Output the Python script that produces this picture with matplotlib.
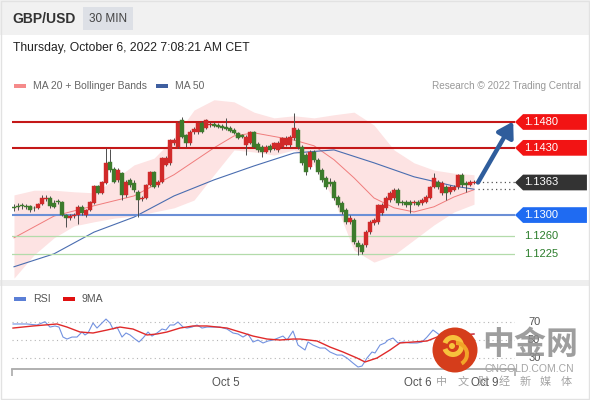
import numpy as np
import matplotlib
matplotlib.use('Agg')
import matplotlib.pyplot as plt
from matplotlib.patches import Polygon, Rectangle, Circle, Wedge
from matplotlib.transforms import blended_transform_factory

plt.rcParams['font.family'] = ['Liberation Sans', 'Noto Sans CJK SC', 'DejaVu Sans']

W, H = 590, 400

# ---- 30 min candles GBP/USD ----
opens = [1.1316, 1.1318, 1.1319, 1.1318, 1.1318, 1.1314, 1.1314, 1.1321, 1.1331, 1.1333,
         1.1323, 1.1327, 1.1325, 1.1300, 1.1294, 1.1298, 1.1300, 1.1316, 1.1300, 1.1310,
         1.1323, 1.1356, 1.1343, 1.1362, 1.1403, 1.1389, 1.1368, 1.1381, 1.1339, 1.1368,
         1.1362, 1.1345, 1.1331, 1.1333, 1.1358, 1.1383, 1.1358, 1.1364, 1.1397, 1.1401,
         1.1439, 1.1432, 1.1484, 1.1455, 1.1439, 1.1461, 1.1461, 1.1478, 1.1468, 1.1474,
         1.1476, 1.1474, 1.1472, 1.1470, 1.1468, 1.1465, 1.1459, 1.1455, 1.1436, 1.1439,
         1.1461, 1.1437, 1.1432, 1.1422, 1.1434, 1.1430, 1.1426, 1.1432, 1.1436, 1.1436,
         1.1449, 1.1465, 1.1432, 1.1416, 1.1393, 1.1422, 1.1407, 1.1387, 1.1372, 1.1364,
         1.1364, 1.1335, 1.1323, 1.1310, 1.1287, 1.1290, 1.1246, 1.1242, 1.1242, 1.1267,
         1.1285, 1.1287, 1.1304, 1.1314, 1.1329, 1.1333, 1.1349, 1.1325, 1.1325, 1.1325,
         1.1323, 1.1325, 1.1323, 1.1325, 1.1333, 1.1354, 1.1364, 1.1343, 1.1354, 1.1345,
         1.1349, 1.1354, 1.1378, 1.1362, 1.1358, 1.1362]
highs = [1.1321, 1.1323, 1.1323, 1.1321, 1.1319, 1.1318, 1.1323, 1.1339, 1.1339, 1.1337,
         1.1329, 1.1331, 1.1327, 1.1302, 1.1302, 1.1304, 1.1319, 1.1319, 1.1312, 1.1327,
         1.1358, 1.1358, 1.1366, 1.1430, 1.1428, 1.1393, 1.1391, 1.1383, 1.1368, 1.1372,
         1.1368, 1.1349, 1.1337, 1.1360, 1.1385, 1.1385, 1.1368, 1.1412, 1.1414, 1.1447,
         1.1449, 1.1482, 1.1490, 1.1457, 1.1465, 1.1470, 1.1480, 1.1482, 1.1486, 1.1480,
         1.1480, 1.1478, 1.1476, 1.1488, 1.1472, 1.1468, 1.1461, 1.1457, 1.1455, 1.1463,
         1.1463, 1.1441, 1.1436, 1.1436, 1.1437, 1.1441, 1.1443, 1.1451, 1.1453, 1.1455,
         1.1497, 1.1468, 1.1436, 1.1420, 1.1426, 1.1426, 1.1410, 1.1391, 1.1376, 1.1372,
         1.1368, 1.1339, 1.1327, 1.1314, 1.1300, 1.1294, 1.1252, 1.1246, 1.1271, 1.1290,
         1.1294, 1.1321, 1.1323, 1.1337, 1.1347, 1.1352, 1.1352, 1.1329, 1.1329, 1.1329,
         1.1329, 1.1329, 1.1333, 1.1339, 1.1356, 1.1381, 1.1368, 1.1366, 1.1358, 1.1358,
         1.1358, 1.1379, 1.1381, 1.1366, 1.1368, 1.1368]
lows = [1.1308, 1.1310, 1.1312, 1.1312, 1.1306, 1.1308, 1.1312, 1.1319, 1.1327, 1.1314,
        1.1314, 1.1321, 1.1298, 1.1277, 1.1290, 1.1294, 1.1283, 1.1300, 1.1296, 1.1308,
        1.1321, 1.1341, 1.1341, 1.1360, 1.1383, 1.1362, 1.1364, 1.1329, 1.1335, 1.1354,
        1.1345, 1.1296, 1.1327, 1.1331, 1.1356, 1.1352, 1.1354, 1.1362, 1.1395, 1.1397,
        1.1436, 1.1430, 1.1449, 1.1432, 1.1436, 1.1457, 1.1457, 1.1459, 1.1466, 1.1470,
        1.1470, 1.1468, 1.1465, 1.1465, 1.1461, 1.1457, 1.1447, 1.1449, 1.1416, 1.1437,
        1.1430, 1.1422, 1.1412, 1.1420, 1.1422, 1.1426, 1.1422, 1.1430, 1.1434, 1.1432,
        1.1445, 1.1428, 1.1397, 1.1378, 1.1389, 1.1403, 1.1379, 1.1364, 1.1350, 1.1356,
        1.1329, 1.1316, 1.1302, 1.1283, 1.1283, 1.1244, 1.1223, 1.1225, 1.1238, 1.1263,
        1.1281, 1.1283, 1.1300, 1.1310, 1.1325, 1.1329, 1.1319, 1.1319, 1.1316, 1.1304,
        1.1319, 1.1318, 1.1319, 1.1323, 1.1331, 1.1352, 1.1350, 1.1339, 1.1329, 1.1341,
        1.1347, 1.1350, 1.1354, 1.1345, 1.1356, 1.1360]
closes = [1.1314, 1.1316, 1.1318, 1.1316, 1.1310, 1.1313, 1.1321, 1.1333, 1.1333, 1.1318,
          1.1316, 1.1325, 1.1300, 1.1294, 1.1298, 1.1300, 1.1316, 1.1304, 1.1310, 1.1325,
          1.1356, 1.1343, 1.1364, 1.1401, 1.1387, 1.1364, 1.1387, 1.1339, 1.1364, 1.1358,
          1.1349, 1.1329, 1.1333, 1.1358, 1.1383, 1.1354, 1.1364, 1.1410, 1.1410, 1.1445,
          1.1445, 1.1478, 1.1451, 1.1439, 1.1461, 1.1466, 1.1478, 1.1461, 1.1484, 1.1476,
          1.1472, 1.1470, 1.1468, 1.1466, 1.1463, 1.1459, 1.1449, 1.1451, 1.1451, 1.1461,
          1.1432, 1.1426, 1.1422, 1.1432, 1.1426, 1.1439, 1.1439, 1.1449, 1.1449, 1.1451,
          1.1468, 1.1432, 1.1401, 1.1383, 1.1422, 1.1407, 1.1383, 1.1368, 1.1354, 1.1360,
          1.1333, 1.1319, 1.1306, 1.1287, 1.1294, 1.1248, 1.1238, 1.1229, 1.1267, 1.1287,
          1.1290, 1.1319, 1.1319, 1.1333, 1.1343, 1.1349, 1.1323, 1.1323, 1.1319, 1.1319,
          1.1325, 1.1319, 1.1329, 1.1335, 1.1354, 1.1372, 1.1354, 1.1362, 1.1343, 1.1354,
          1.1354, 1.1378, 1.1358, 1.1358, 1.1364, 1.1363]

# moving averages / bands, sampled by candle index
ma50_idx = [0, 10, 20, 30, 40, 50, 60, 70, 80, 90, 100, 110, 115]
ma50 = [1.1200, 1.1225, 1.1267, 1.1296, 1.1337, 1.1368, 1.1395, 1.1420, 1.1426, 1.1401,
        1.1374, 1.1356, 1.1350]
ma20_idx = [0, 10, 20, 30, 40, 50, 55, 60, 70, 75, 80, 85, 90, 95, 100, 105, 110, 115]
ma20 = [1.1256, 1.1298, 1.1318, 1.1337, 1.1378, 1.1430, 1.1453, 1.1459, 1.1445, 1.1434,
        1.1407, 1.1372, 1.1333, 1.1314, 1.1306, 1.1316, 1.1335, 1.1349]
bb_idx = [0, 5, 10, 15, 20, 25, 30, 35, 40, 45, 50, 55, 60, 65, 70, 75, 80, 85, 90, 95,
          100, 105, 110, 115]
bb_upper = [1.1339, 1.1348, 1.1348, 1.1345, 1.1343, 1.1368, 1.1397, 1.1410, 1.1449, 1.1503,
            1.1523, 1.1519, 1.1499, 1.1488, 1.1492, 1.1488, 1.1494, 1.1499, 1.1474, 1.1426,
            1.1401, 1.1387, 1.1381, 1.1378]
bb_lower = [1.1178, 1.1223, 1.1256, 1.1279, 1.1287, 1.1294, 1.1298, 1.1306, 1.1314, 1.1329,
            1.1378, 1.1426, 1.1422, 1.1416, 1.1426, 1.1397, 1.1329, 1.1232, 1.1209, 1.1223,
            1.1252, 1.1281, 1.1306, 1.1321]

# support / resistance levels
res_levels = [1.1480, 1.1430]
pivot_level = 1.1300
sup_levels = [1.1260, 1.1225]
last_price = 1.1363

# RSI panel
rsi_idx = [-0.25, 3.25, 5.75, 7.75, 9, 10.25, 11.25, 12.25, 13.25, 14.5, 15.75, 17, 17.75,
           18.5, 19.75, 20.75, 22, 23, 24, 24.75, 25.75, 27, 28, 29, 30.25, 31.25, 32.25,
           33.5, 34.5, 35.75, 37, 38, 39, 40, 41, 42.25, 43.25, 44.5, 45.75, 47, 48.25, 49.75,
           51.5, 53.25, 54.75, 56, 57.25, 58.5, 59.75, 61, 62.25, 63.5, 64.75, 66, 67.25,
           68.25, 69.75, 71, 72.75, 73.5, 74.75, 76.5, 77.75, 79, 80.75, 82, 83.25, 84.75,
           86, 87, 88.25, 89.5, 90.25, 91.5, 92.75, 93.5, 94.75, 96, 97.25, 99, 100.75, 102,
           103.25, 104.75, 105.75, 106.75, 107.75, 109, 110.75, 111.75, 113, 115]
rsi = [67.8, 67.8, 66.7, 70.3, 64.4, 65.6, 64.4, 53.3, 51.1, 53.3, 53.3, 58.9, 55.6, 57.8,
       68.9, 63.3, 68.9, 73.3, 68.9, 62.2, 64.4, 53.3, 57.8, 55.6, 51.1, 47.8, 52.2, 58.9,
       54.4, 57.8, 62.2, 61.1, 66.7, 66.7, 70.0, 64.4, 63.3, 64.4, 66.7, 63.3, 64.4, 64.4,
       64.4, 62.2, 57.8, 56.7, 53.3, 56.7, 47.8, 50.0, 46.7, 48.9, 50.0, 52.2, 54.4, 50.0,
       60.0, 44.4, 38.9, 47.8, 44.4, 41.1, 41.1, 36.7, 33.3, 33.3, 30.0, 24.4, 20.0, 21.1,
       30.0, 36.7, 35.6, 44.4, 46.7, 50.0, 52.2, 46.7, 47.8, 46.7, 46.7, 47.8, 53.3, 61.1,
       57.8, 54.4, 52.2, 54.4, 61.1, 57.8, 55.6, 56.7]
ma9_idx = [-0.25, 4.75, 10.75, 13.25, 16.5, 19.75, 23.25, 26.5, 29.75, 33.25, 35.75, 38.25,
           41.5, 44.75, 48.25, 53.25, 56.5, 59.75, 63.25, 66.5, 69.75, 71.5, 75.75, 79,
           82.25, 85.75, 87.75, 90.75, 94, 96.5, 99.75, 103.25, 105.75, 109, 115]
ma9 = [63.3, 65.6, 67.8, 64.4, 58.9, 57.8, 61.1, 64.4, 62.2, 55.6, 56.7, 58.9, 63.3, 65.6,
       65.6, 63.3, 58.9, 54.4, 51.1, 50.0, 51.1, 51.1, 48.9, 42.2, 36.7, 30.0, 25.6, 30.0,
       38.9, 46.7, 47.8, 48.9, 53.3, 54.4, 56.7]
rsi_levels = [70, 50, 30]

date_pos = [53, 101]
date_labels = ['Oct 5', 'Oct 6']

UP = '#d12a2a'
DOWN = '#3d7b2c'
WICK = '#4d4d4d'


def px_rect(x0, y0, x1, y1):
    return [x0 / W, 1 - y1 / H, (x1 - x0) / W, (y1 - y0) / H]


fig = plt.figure(figsize=(5.9, 4.0), dpi=100)
fig.patch.set_facecolor('white')

# background / chrome layer in pixel coords
bg = fig.add_axes([0, 0, 1, 1], zorder=0)
bg.set_xlim(0, W)
bg.set_ylim(H, 0)
bg.axis('off')
bg.add_patch(Rectangle((0, 0), W, 35, color='#f1f1f1', lw=0))
bg.add_patch(Rectangle((0, 280), W, 6, color='#eeeeee', lw=0))
bg.add_patch(Rectangle((0.5, 0.5), W - 1.5, H - 1.5, fill=False, ec='#e2e2e2', lw=1))
bg.add_patch(Rectangle((83, 7), 50, 23, color='#dde0e6', lw=0))
bg.text(12, 19, 'GBP/USD', fontsize=10, fontweight='bold', color='#333333', va='center')
bg.text(108, 19, '30 MIN', fontsize=8.5, color='#444444', va='center', ha='center')
bg.text(13, 48, 'Thursday, October 6, 2022 7:08:21 AM CET', fontsize=8.7, color='#222222',
        va='center')

# legends
bg.add_patch(Rectangle((14, 84), 12, 4, color='#f58a8a', lw=0))
bg.text(33, 86, 'MA 20 + Bollinger Bands', fontsize=7.5, color='#666666', va='center')
bg.add_patch(Rectangle((156, 84), 12, 4, color='#3f5fa0', lw=0))
bg.text(175, 86, 'MA 50', fontsize=7.5, color='#666666', va='center')
bg.text(581, 86, 'Research \u00a9 2022 Trading Central', fontsize=7.2, color='#999999',
        va='center', ha='right')
bg.add_patch(Rectangle((14, 297), 12, 4, color='#5b7fd6', lw=0))
bg.text(33, 299, 'RSI', fontsize=7.6, color='#555555', va='center')
bg.add_patch(Rectangle((63, 297), 12, 4, color='#e01010', lw=0))
bg.text(82, 299, '9MA', fontsize=7.6, color='#555555', va='center')

# ---- price panel ----
ax = fig.add_axes(px_rect(12, 95, 515, 280), zorder=1)
ax.set_xlim(-0.5, 125.25)
ax.set_ylim(1.11744, 1.15322)
ax.axis('off')

ax.fill_between(bb_idx, bb_lower, bb_upper, color='#fde3e3', lw=0, zorder=1)
ax.plot(ma20_idx, ma20, color='#f07c7c', lw=0.7, zorder=2)
ax.plot(ma50_idx, ma50, color='#4a6db0', lw=0.8, zorder=2)

for lv in res_levels:
    ax.axhline(lv, color='#c41818', lw=1.5, zorder=2.5)
ax.axhline(pivot_level, color='#6b8fd6', lw=1.5, zorder=2.5)
for lv in sup_levels:
    ax.axhline(lv, color='#b3dbaa', lw=0.9, zorder=2.5)

idx = np.arange(len(closes))
o = np.array(opens)
c = np.array(closes)
ax.vlines(idx, lows, highs, color=WICK, lw=0.7, zorder=3)
body_h = np.maximum(np.abs(c - o), 0.00009)
cols = [UP if cc >= oo else DOWN for oo, cc in zip(o, c)]
ax.bar(idx, body_h, bottom=np.minimum(o, c), width=0.78, color=cols, edgecolor=cols,
       lw=0.3, zorder=4)

# dotted guide from last candle to the tags
ax.hlines([last_price, ma50[-1]], len(closes), 125.25, color='#555555', lw=0.9,
          linestyles=(0, (1, 2.5)), zorder=2)

# forecast arrow
ax.annotate('', xy=(124.8, res_levels[0] + 0.0001), xytext=(116, last_price),
            arrowprops=dict(arrowstyle='-|>,head_length=0.9,head_width=0.55',
                            color='#2f5d9c', lw=3.2, shrinkA=0, shrinkB=0),
            annotation_clip=False, zorder=6)

tr = blended_transform_factory(ax.transAxes, ax.transData)


def tag(price, color):
    hh = 0.00152
    pts = [(1.0, price), (1.016, price + hh), (1.143, price + hh),
           (1.143, price - hh), (1.016, price - hh)]
    ax.add_patch(Polygon(pts, closed=True, transform=tr, facecolor=color,
                         edgecolor='none', clip_on=False, zorder=5))
    ax.text(1.019, price, f'{price:.4f}', transform=tr, color='white', fontsize=8,
            va='center', ha='left', clip_on=False, zorder=6)


for lv in res_levels:
    tag(lv, '#f21414')
tag(last_price, '#333333')
tag(pivot_level, '#1f6bf2')
for lv in sup_levels:
    ax.text(1.019, lv, f'{lv:.4f}', transform=tr, color='#2b7d2b', fontsize=8,
            va='center', ha='left', clip_on=False)

# ---- RSI panel ----
rx = fig.add_axes(px_rect(12, 305, 515, 369), zorder=1)
rx.set_xlim(-0.5, 125.25)
rx.set_ylim(17.8, 88.9)
rx.patch.set_alpha(0)
for lv in rsi_levels:
    rx.axhline(lv, color='#b5b5b5', lw=0.8, ls=(0, (1, 3)), zorder=1)
rx.plot(rsi_idx, rsi, color='#7392e0', lw=0.8, zorder=2)
rx.plot(ma9_idx, ma9, color='#e02a2a', lw=1.0, zorder=3)
for s in ['top', 'left', 'right']:
    rx.spines[s].set_visible(False)
rx.spines['bottom'].set_color('#aaaaaa')
rx.spines['bottom'].set_linewidth(1.3)
rx.set_yticks([])
rx.set_xticks([-0.5, 125.25])
rx.set_xticklabels([])
rx.tick_params(axis='x', length=5, width=1.2, color='#aaaaaa', direction='out')
rtr = blended_transform_factory(rx.transData, rx.transAxes)
for p, lab in zip(date_pos, date_labels):
    rx.text(p, -0.22, lab, transform=rtr, ha='center', va='center', fontsize=8.3,
            color='#555555')
rtr2 = blended_transform_factory(rx.transAxes, rx.transData)
for lv in rsi_levels:
    rx.text(1.026, lv, str(lv), transform=rtr2, ha='left', va='center', fontsize=8,
            color='#555555', clip_on=False)

# ---- watermark overlay ----
wm = fig.add_axes([0, 0, 1, 1], zorder=10)
wm.set_xlim(0, W)
wm.set_ylim(H, 0)
wm.axis('off')
wm.patch.set_alpha(0)
wm.text(485, 383, 'Oct 9', fontsize=8.3, color='#555555', ha='center', va='center')
wm.add_patch(Circle((455, 350), 22.5, color='#d53d1b', lw=0))
wm.add_patch(Wedge((453, 346), 11, 200, 520, width=5, color='#f7c23c', lw=0))
wm.add_patch(Wedge((456, 354), 13, 270, 60, width=4, color='#f2a428', lw=0))
wm.add_patch(Circle((452, 346), 3, color='#f7c23c', lw=0))
wm.text(530, 346, '中金网', fontsize=23, fontweight='bold', color='#8d8d8d', alpha=0.85,
        ha='center', va='center')
wm.text(529, 369, 'CNGOLD.COM.CN', fontsize=7.5, color='#a5a5a5', ha='center',
        va='center')
for k, ch in enumerate('中文财经新媒体'):
    wm.text(442 + k * 20.7, 382, ch, fontsize=8, color='#9a9a9a', alpha=0.9,
            ha='center', va='center')

fig.savefig('out.png', dpi=100)
